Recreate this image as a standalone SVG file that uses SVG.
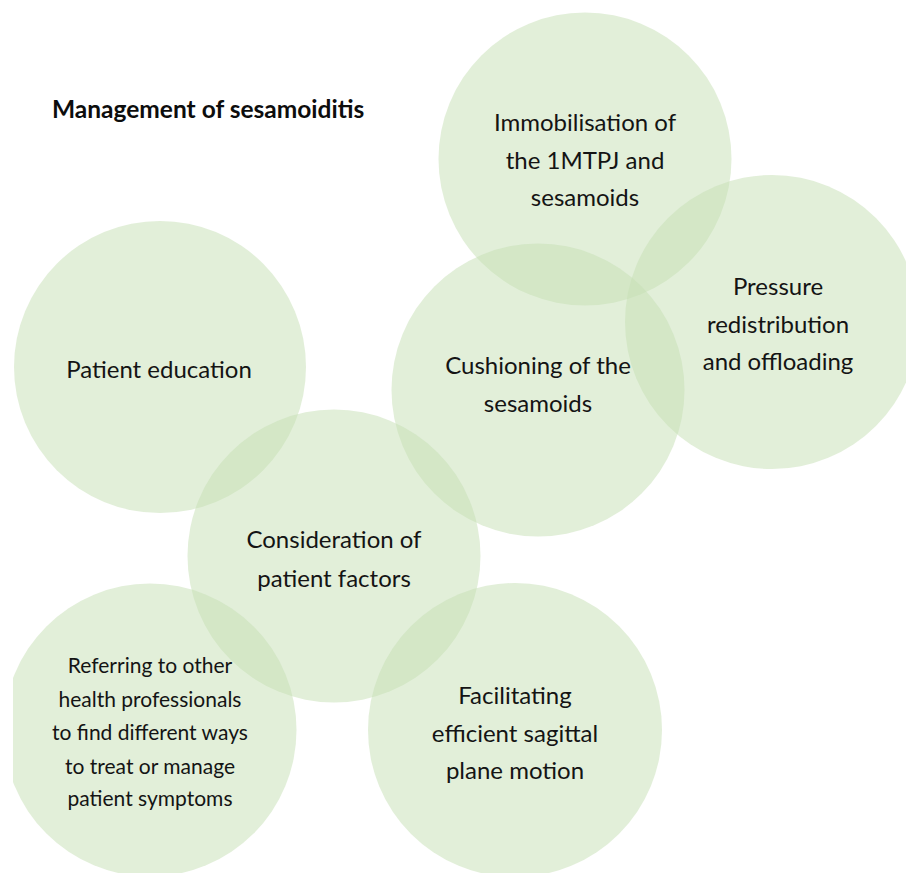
<svg xmlns="http://www.w3.org/2000/svg" width="906" height="873" viewBox="0 0 906 873">
  <style>
    .bubble { fill: #C5E0B4; fill-opacity: 0.5; }
    .label { font-family: Lato, "Open Sans", "Liberation Sans", sans-serif; font-size: 24px; fill: #141414; text-anchor: middle; }
    .small { font-size: 21px; }
    .title { font-family: Lato, "Liberation Sans", sans-serif; font-size: 24.5px; font-weight: bold; fill: #0d0d0d; }
  </style>
  <defs>
    <clipPath id="page">
      <rect x="13" y="0" width="893" height="873"/>
    </clipPath>
  </defs>
  <rect width="906" height="873" fill="#ffffff"/>
  <text class="title" x="52" y="118">Management of sesamoiditis</text>
  <g id="connectors"/>
  <g clip-path="url(#page)">
    <g id="immobilisation">
      <circle class="bubble" cx="585" cy="159" r="146.5"/>
      <text class="label" x="585" y="131">Immobilisation of</text>
      <text class="label" x="585" y="169">the 1MTPJ and</text>
      <text class="label" x="585" y="206">sesamoids</text>
    </g>
    <g id="pressure">
      <circle class="bubble" cx="772" cy="322" r="147"/>
      <text class="label" x="778" y="295">Pressure</text>
      <text class="label" x="778" y="333">redistribution</text>
      <text class="label" x="778" y="370">and offloading</text>
    </g>
    <g id="cushioning">
      <circle class="bubble" cx="538" cy="390" r="146.5"/>
      <text class="label" x="538" y="374">Cushioning of the</text>
      <text class="label" x="538" y="412">sesamoids</text>
    </g>
    <g id="education">
      <circle class="bubble" cx="160" cy="367" r="146"/>
      <text class="label" x="159" y="378">Patient education</text>
    </g>
    <g id="consideration">
      <circle class="bubble" cx="334" cy="556" r="146.5"/>
      <text class="label" x="334" y="548">Consideration of</text>
      <text class="label" x="334" y="587">patient factors</text>
    </g>
    <g id="referring">
      <circle class="bubble" cx="150" cy="730" r="146.5"/>
      <text class="label small" x="150" y="673">Referring to other</text>
      <text class="label small" x="150" y="707">health professionals</text>
      <text class="label small" x="150" y="740">to find different ways</text>
      <text class="label small" x="150" y="774">to treat or manage</text>
      <text class="label small" x="150" y="806">patient symptoms</text>
    </g>
    <g id="facilitating">
      <circle class="bubble" cx="515" cy="730" r="147"/>
      <text class="label" x="515" y="704">Facilitating</text>
      <text class="label" x="515" y="742">efficient sagittal</text>
      <text class="label" x="515" y="779">plane motion</text>
    </g>
  </g>
</svg>
